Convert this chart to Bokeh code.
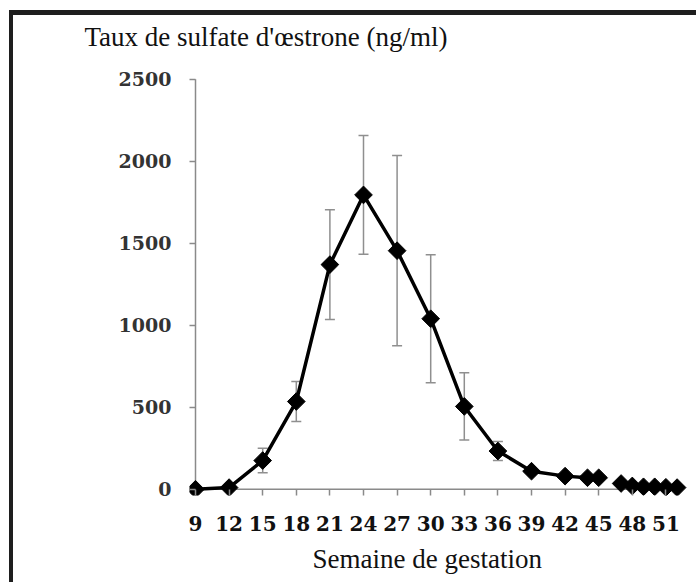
import numpy as np
from bokeh.plotting import figure
from bokeh.models import (Range1d, ColumnDataSource, Whisker, TeeHead, Title,
                          FixedTicker, GlobalInlineStyleSheet)
from bokeh.embed import file_html
from bokeh.resources import INLINE

# ---- data ----
weeks = [9, 12, 15, 18, 21, 24, 27, 30, 33, 36, 39, 42, 44, 45,
         47, 48, 49, 50, 51, 52]
sulfate = [0, 10, 175, 535, 1370, 1795, 1455, 1040, 505, 233, 110, 80, 70, 70,
           35, 20, 15, 15, 12, 10]
sem = [0, 0, 75, 122, 335, 362, 580, 390, 205, 58, 0, 0, 0, 0,
       0, 0, 0, 0, 0, 0]
x_ticks = [9, 12, 15, 18, 21, 24, 27, 30, 33, 36, 39, 42, 45, 48, 51]
y_ticks = [0, 500, 1000, 1500, 2000, 2500]
x_axis_end = 52.5
gap_after = 45  # no measurement at week 46: the curve is interrupted

title_text = "Taux de sulfate d'\u0153strone (ng/ml)"
xlabel_text = "Semaine de gestation"

SERIF = "'Liberation Serif', 'Times New Roman', serif"

# ---- geometry ----
W, H = 696, 582
L, R, T, B = 189, 3, 54, 84
fw = W - L - R
px_per_x = 11.2
x0 = x_ticks[0] - 6 / px_per_x
x1 = x0 + fw / px_per_x
px_per_y = 0.16508
zero_py = 491.7
y1 = (zero_py - T) / px_per_y
y0 = -((H - B) - zero_py) / px_per_y

p = figure(width=W, height=H, output_backend="svg", toolbar_location=None,
           x_range=Range1d(x0, x1), y_range=Range1d(y0, y1),
           min_border_left=L, min_border_right=R, min_border_top=T,
           min_border_bottom=B)
p.outline_line_color = None
p.xgrid.visible = False
p.ygrid.visible = False
p.background_fill_color = "white"
p.border_fill_color = "white"

# title (top left)
p.title.text = title_text
p.title.align = "left"
p.title.offset = 84 - L
p.title.standoff = 5
p.title.text_font = SERIF
p.title.text_font_size = "27px"
p.title.text_font_style = "normal"
p.title.text_color = "#111111"

# x axis label as a title below
p.add_layout(Title(text=xlabel_text, align="left", offset=312 - L,
                   standoff=17, text_font=SERIF,
                   text_font_size="27px", text_font_style="normal",
                   text_color="#111111"), "below")

AX_COL = "#8a8a8a"

ax = p.xaxis[0]
ax.ticker = FixedTicker(ticks=x_ticks)
ax.axis_line_color = None
ax.major_tick_in = 6
ax.major_tick_out = 0
ax.minor_tick_line_color = None
ax.major_tick_line_color = AX_COL
ax.major_tick_line_width = 1.5
ax.major_label_text_font = "DejaVu Serif"
ax.major_label_text_font_style = "bold"
ax.major_label_text_font_size = "20px"
ax.major_label_text_color = "#111111"
ax.major_label_standoff = 20

ay = p.yaxis[0]
ay.ticker = FixedTicker(ticks=y_ticks)
ay.axis_line_color = None
ay.major_tick_in = 6
ay.major_tick_out = 0
ay.minor_tick_line_color = None
ay.major_tick_line_color = AX_COL
ay.major_tick_line_width = 1.5
ay.major_label_text_font = "DejaVu Serif"
ay.major_label_text_font_style = "bold"
ay.major_label_text_font_size = "19px"
ay.major_label_text_color = "#333333"
ay.major_label_standoff = 18

# axis lines at x = 9 and y = 0
p.segment(x0=[x_ticks[0], x_ticks[0]], y0=[y_ticks[0], y_ticks[0]],
          x1=[x_axis_end, x_ticks[0]], y1=[y_ticks[0], y_ticks[-1]],
          line_color=AX_COL, line_width=1.5, level="underlay")

# error bars
wk = np.array(weeks, dtype=float)
val = np.array(sulfate, dtype=float)
err = np.array(sem, dtype=float)
esrc = ColumnDataSource(dict(base=wk, upper=val + err, lower=val - err))
wh = Whisker(source=esrc, base="base", upper="upper", lower="lower",
             line_color="#8f8f8f", line_width=1.5,
             upper_head=TeeHead(size=10, line_color="#8f8f8f", line_width=1.5),
             lower_head=TeeHead(size=10, line_color="#8f8f8f", line_width=1.5),
             level="underlay")
p.add_layout(wh)

# curve (two pieces because week 46 is missing)
m1 = wk <= gap_after
m2 = wk > gap_after
p.line(wk[m1], val[m1], line_color="black", line_width=3.5)
p.line(wk[m2], val[m2], line_color="black", line_width=3.5)
p.scatter(wk, val, marker="square", angle=np.pi / 4, size=12.5,
          fill_color="black", line_color="black", line_width=1)

# picture frame: dark left and top edges; keep the right margin white
p.stylesheets = [GlobalInlineStyleSheet(css="""
html, body { margin: 0; overflow: hidden; }
body::after {
  content: "";
  position: fixed;
  left: 0; top: 0; width: 696px; height: 582px;
  pointer-events: none;
  z-index: 2147483647;
  background:
    linear-gradient(#1e1e1e, #1e1e1e) 9px 10px / 687px 5px no-repeat,
    linear-gradient(#1e1e1e, #1e1e1e) 9px 10px / 4px 572px no-repeat,
    linear-gradient(#ffffff, #ffffff) 691px 15px / 5px 567px no-repeat;
}
""")]

open("out.html", "w").write(file_html(p, INLINE))
